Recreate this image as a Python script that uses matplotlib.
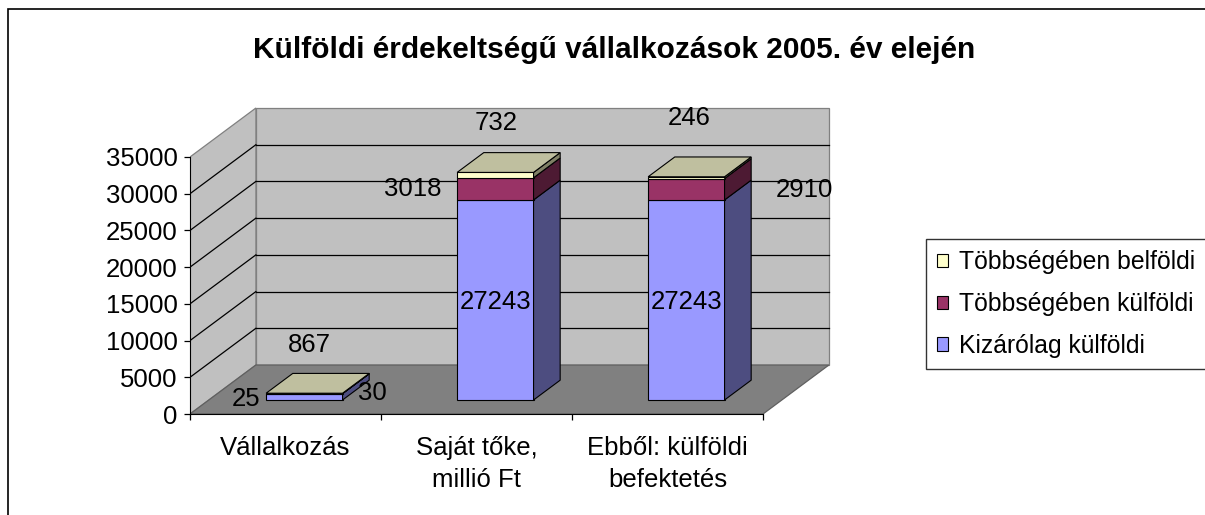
import matplotlib
matplotlib.use('Agg')
import matplotlib.pyplot as plt
from matplotlib.patches import Polygon, Rectangle, Patch

plt.rcParams['font.family'] = ['Liberation Sans', 'DejaVu Sans']

title = 'Külföldi érdekeltségű vállalkozások 2005. év elején'
categories = ['Vállalkozás', 'Saját tőke,\nmillió Ft', 'Ebből: külföldi\nbefektetés']
series_names = ['Kizárólag külföldi', 'Többségében külföldi', 'Többségében belföldi']
kizarolag = [867, 27243, 27243]
tobbs_kulfoldi = [25, 3018, 2910]
tobbs_belfoldi = [30, 732, 246]
y_ticks = [0, 5000, 10000, 15000, 20000, 25000, 30000, 35000]

series = [kizarolag, tobbs_kulfoldi, tobbs_belfoldi]
front_col = ['#9999FF', '#993366', '#FFFFCC']
side_col = ['#4D4D80', '#4D1A33', '#808066']
top_col = '#BFBF9F'

# where each value label sits, pixels from the segment's front centre
label_off = [
    [(5, 54), (0, 0), (0, 0)],
    [(-58, -3), (-83, 2), (118, 2)],
    [(68, 3), (1, 55), (3, 62)],
]

FS = 18.5
W, H = 1205, 515
ymax = y_ticks[-1]
ncat = len(categories)
ddx, ddy = 0.345, 6673.0      # depth of the box in data units
f0, f1 = 0.286, 0.69          # bar front/back depth fraction
bw = 0.40

fig = plt.figure(figsize=(W / 100, H / 100), dpi=100)
px_cat = 191.0
px_val = 257.0 / ymax
xl = (0, 3.45)
yl = (0, 43000)
ax = fig.add_axes([190 / W, (H - 414) / H, xl[1] * px_cat / W, yl[1] * px_val / H])
ax.set_xlim(*xl)
ax.set_ylim(*yl)
ax.patch.set_visible(False)


def P(x, y, d):
    return (x + d * ddx, y + d * ddy)


# walls and floor
ax.add_patch(Polygon([P(0, 0, 1), P(ncat, 0, 1), P(ncat, ymax, 1), P(0, ymax, 1)],
                     fc='#C0C0C0', ec='#808080', lw=0.9, zorder=1))
ax.add_patch(Polygon([P(0, 0, 0), P(0, 0, 1), P(0, ymax, 1), P(0, ymax, 0)],
                     fc='#C0C0C0', ec='#808080', lw=0.9, zorder=1))
for v in y_ticks[1:-1]:
    ax.plot([P(0, v, 1)[0], P(ncat, v, 1)[0]], [P(0, v, 1)[1]] * 2, color='black', lw=0.9, zorder=2)
    ax.plot([0, ddx], [v, v + ddy], color='black', lw=0.9, zorder=2)
ax.add_patch(Polygon([P(0, 0, 0), P(ncat, 0, 0), P(ncat, 0, 1), P(0, 0, 1)],
                     fc='#808080', ec='#606060', lw=0.9, zorder=2))

# bars
for i in range(ncat):
    x0 = i + 0.5 - bw / 2
    base = 0
    for s in range(len(series)):
        v = series[s][i]
        a = P(x0, base, f0)
        b = P(x0 + bw, base, f0)
        c = P(x0 + bw, base + v, f0)
        d = P(x0, base + v, f0)
        ax.add_patch(Polygon([a, b, c, d], fc=front_col[s], ec='black', lw=0.8, zorder=3))
        ax.add_patch(Polygon([b, P(x0 + bw, base, f1), P(x0 + bw, base + v, f1), c],
                             fc=side_col[s], ec='black', lw=0.8, zorder=3))
        cx, cy = P(x0 + bw / 2, base + v / 2, f0)
        dx, dy = label_off[s][i]
        ax.annotate(str(v), xy=(cx, cy), xytext=(dx, dy), textcoords='offset pixels',
                    ha='center', va='center_baseline', fontsize=FS, zorder=5)
        base += v
    ax.add_patch(Polygon([P(x0, base, f0), P(x0 + bw, base, f0), P(x0 + bw, base, f1), P(x0, base, f1)],
                         fc=top_col, ec='black', lw=0.8, zorder=3))

# axes
for sp in ['top', 'right']:
    ax.spines[sp].set_visible(False)
ax.spines['left'].set_bounds(0, ymax)
ax.spines['bottom'].set_bounds(0, ncat)
ax.spines['left'].set_zorder(4)
ax.spines['bottom'].set_zorder(4)
ax.set_yticks(y_ticks)
ax.set_yticklabels([str(t) for t in y_ticks])
ax.tick_params(axis='y', direction='out', length=4, width=0.9, pad=5, labelsize=FS)
ax.set_xticks(range(ncat + 1))
ax.set_xticklabels([])
ax.set_xticks([i + 0.5 for i in range(ncat)], minor=True)
ax.set_xticklabels(categories, minor=True, fontsize=FS, linespacing=1.4)
ax.tick_params(axis='x', which='major', direction='out', length=4, width=0.9)
ax.tick_params(axis='x', which='minor', length=0, pad=16)

fig.text(0.51, 1 - 50 / H, title, ha='center', va='center', fontsize=21.5, fontweight='bold')

handles = [Patch(fc=front_col[s], ec='black', lw=0.8) for s in [2, 1, 0]]
leg = fig.legend(handles, [series_names[s] for s in [2, 1, 0]], loc='center left',
                 bbox_to_anchor=(926 / W, 1 - 304 / H), fontsize=17.8, frameon=True,
                 fancybox=False, edgecolor='black', borderpad=0.45, handlelength=0.44,
                 handleheight=0.44, handletextpad=0.45, labelspacing=0.72, borderaxespad=0)
leg.get_frame().set_linewidth(1.0)

fig.patches.append(Rectangle((8 / W, -0.1), 1.2, 1.1 - 9 / H, transform=fig.transFigure,
                             fill=False, ec='black', lw=1.2))

fig.savefig('out.png', dpi=100)
